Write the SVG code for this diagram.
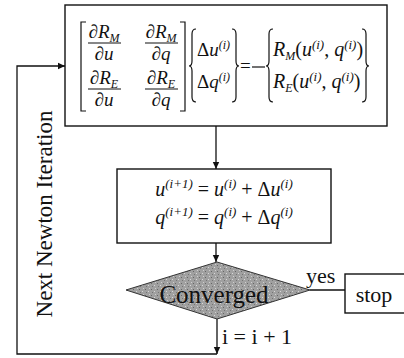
<svg xmlns="http://www.w3.org/2000/svg" width="404" height="358" viewBox="0 0 404 358">
<style>
.box{fill:#fff;stroke:#111;stroke-width:1.4}
.ln{fill:none;stroke:#111;stroke-width:1.3}
.br{fill:none;stroke:#111;stroke-width:1.2}
.m{font-family:"Liberation Serif",serif;font-style:italic;font-size:19px;fill:#111}
.m2{font-size:20px}
.s{font-size:12px}
.s2{font-size:13px}
.t{font-family:"Liberation Serif",serif;font-size:22px;fill:#111}
.up{font-style:normal}
</style>
<defs>
<marker id="ah" markerWidth="8" markerHeight="8" refX="7" refY="4" orient="auto" markerUnits="userSpaceOnUse">
<path d="M0,0.8 L7,4 L0,7.2 Z" fill="#111"/>
</marker>
<pattern id="grain" width="6" height="6" patternUnits="userSpaceOnUse">
<rect width="6" height="6" fill="#a0a0a0"/>
<rect x="1" y="1" width="1" height="1" fill="#666"/>
<rect x="4" y="3" width="1" height="1" fill="#d8d8d8"/>
<rect x="2" y="4" width="1" height="1" fill="#747474"/>
<rect x="5" y="0" width="1" height="1" fill="#cfcfcf"/>
</pattern>
</defs>

<g id="connectors">
<line class="ln" x1="216" y1="126" x2="216" y2="169" marker-end="url(#ah)"/>
<line class="ln" x1="216" y1="243" x2="216" y2="262" marker-end="url(#ah)"/>
<line class="ln" x1="310" y1="290" x2="345" y2="290"/>
<line class="ln" x1="217" y1="319" x2="217" y2="354" marker-end="url(#ah)"/>
<path class="ln" d="M217,354 H17 V66 H65" marker-end="url(#ah)"/>
</g>

<g id="node-system">
<rect class="box" x="65" y="5" width="322" height="121"/>
<path class="br" d="M86,22 H81 V111 H86"/>
<path class="br" d="M180,22 H185 V111 H180"/>
<text class="m" x="104" y="38" text-anchor="middle">∂R<tspan class="s" dy="4">M</tspan></text>
<line class="br" x1="88" y1="43" x2="121" y2="43"/>
<text class="m" x="104" y="60" text-anchor="middle">∂u</text>
<text class="m" x="161" y="38" text-anchor="middle">∂R<tspan class="s" dy="4">M</tspan></text>
<line class="br" x1="145" y1="43" x2="178" y2="43"/>
<text class="m" x="161" y="60" text-anchor="middle">∂q</text>
<text class="m" x="104" y="84" text-anchor="middle">∂R<tspan class="s" dy="4">E</tspan></text>
<line class="br" x1="88" y1="89" x2="121" y2="89"/>
<text class="m" x="104" y="106" text-anchor="middle">∂u</text>
<text class="m" x="161" y="84" text-anchor="middle">∂R<tspan class="s" dy="4">E</tspan></text>
<line class="br" x1="145" y1="89" x2="178" y2="89"/>
<text class="m" x="161" y="106" text-anchor="middle">∂q</text>
<path class="br" d="M196,29 Q192,29 192,34 V61 Q192,66 189,66 Q192,66 192,71 V97 Q192,102 196,102"/>
<text class="m" x="197" y="56"><tspan class="up">Δ</tspan>u<tspan class="s" dy="-7">(i)</tspan></text>
<text class="m" x="197" y="88"><tspan class="up">Δ</tspan>q<tspan class="s" dy="-7">(i)</tspan></text>
<path class="br" d="M232,29 Q236,29 236,34 V61 Q236,66 239,66 Q236,66 236,71 V97 Q236,102 232,102"/>
<text class="m up" x="240" y="72" style="font-style:normal">=</text>
<line class="br" x1="252" y1="67" x2="265" y2="67"/>
<path class="br" d="M273,29 Q269,29 269,34 V61 Q269,66 266,66 Q269,66 269,71 V97 Q269,102 273,102"/>
<text class="m m2" x="273" y="56">R<tspan class="s" dy="4">M</tspan><tspan dy="-4" class="up">(</tspan>u<tspan class="s2" dy="-7">(i)</tspan><tspan dy="7" class="up">, </tspan>q<tspan class="s2" dy="-7">(i)</tspan><tspan dy="7" class="up">)</tspan></text>
<text class="m m2" x="273" y="88">R<tspan class="s" dy="4">E</tspan><tspan dy="-4" class="up">(</tspan>u<tspan class="s2" dy="-7">(i)</tspan><tspan dy="7" class="up">, </tspan>q<tspan class="s2" dy="-7">(i)</tspan><tspan dy="7" class="up">)</tspan></text>
<path class="br" d="M362,29 Q366,29 366,34 V61 Q366,66 369,66 Q366,66 366,71 V97 Q366,102 362,102"/>
</g>

<g id="node-update">
<rect class="box" x="117" y="169" width="214" height="74"/>
<text class="m m2" x="224" y="196" text-anchor="middle">u<tspan class="s2" dy="-8">(i+1)</tspan><tspan class="up" dy="8"> = </tspan>u<tspan class="s2" dy="-8">(i)</tspan><tspan class="up" dy="8"> + Δ</tspan>u<tspan class="s2" dy="-8">(i)</tspan></text>
<text class="m m2" x="224" y="224" text-anchor="middle">q<tspan class="s2" dy="-8">(i+1)</tspan><tspan class="up" dy="8"> = </tspan>q<tspan class="s2" dy="-8">(i)</tspan><tspan class="up" dy="8"> + Δ</tspan>q<tspan class="s2" dy="-8">(i)</tspan></text>
</g>

<g id="node-converged">
<polygon points="126,290 217,262 310,290 217,319" fill="url(#grain)" stroke="#333" stroke-width="1"/>
<text class="t" x="214" y="303" text-anchor="middle" style="font-size:25px">Converged</text>
</g>

<g id="node-stop">
<rect class="box" x="345" y="274" width="64" height="39"/>
<text class="t" x="374" y="302" text-anchor="middle">stop</text>
</g>

<g id="labels">
<text class="t" x="306" y="283">yes</text>
<text class="t" x="222" y="344">i = i + 1</text>
<text class="t" transform="translate(52,214) rotate(-90)" text-anchor="middle" style="font-size:23px">Next Newton Iteration</text>
</g>
</svg>
